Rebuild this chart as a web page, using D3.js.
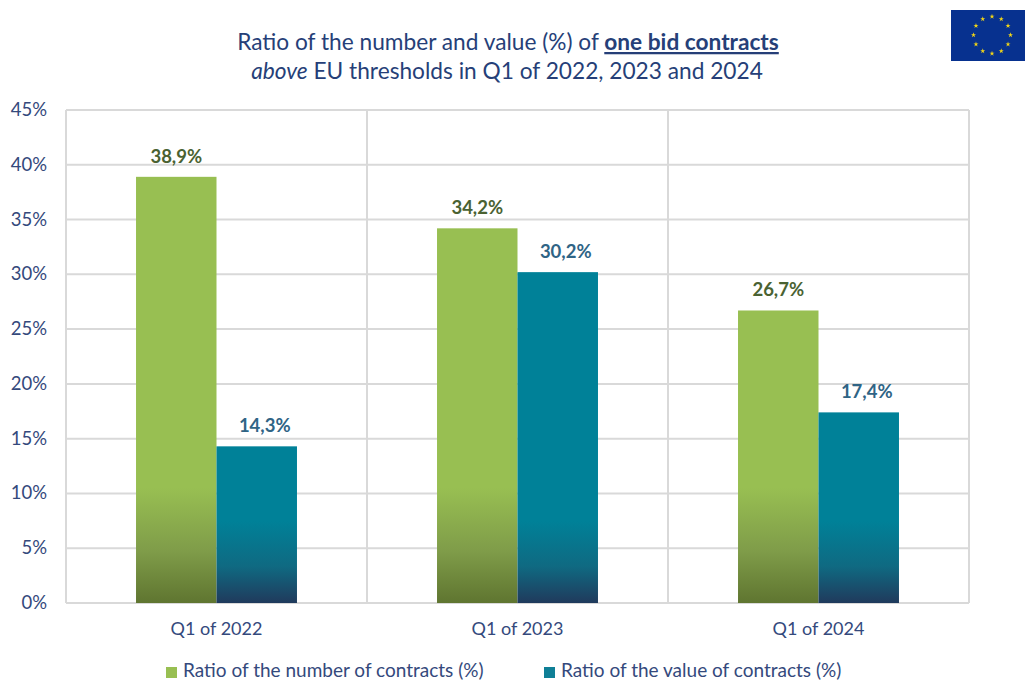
<!DOCTYPE html>
<html>
<head>
<meta charset="utf-8">
<script src="https://cdn.jsdelivr.net/npm/d3@7"></script>
<style>
  html, body { margin: 0; padding: 0; background: #fff; overflow: hidden; }
  svg { display: block; font-family: Lato, "Open Sans", sans-serif; }
</style>
</head>
<body>
<div id="app"></div>
<script>
const categories = ['Q1 of 2022', 'Q1 of 2023', 'Q1 of 2024']
const numberValues = [38.9, 34.2, 26.7]
const valueValues = [14.3, 30.2, 17.4]
const seriesNames = ['Ratio of the number of contracts (%)', 'Ratio of the value of contracts (%)']
const yTicks = [0, 5, 10, 15, 20, 25, 30, 35, 40, 45]

const width = 1025
const height = 681
const textColor = '#34497c'
const gridColor = '#d9d9d9'

const svg = d3.select('#app').append('svg')
  .attr('width', width)
  .attr('height', height)

const x = d3.scaleBand().domain(categories).range([66, 969])
const xInner = d3.scaleBand().domain([0, 1]).range([0, x.bandwidth()]).paddingOuter(0.87).paddingInner(0)
const y = d3.scaleLinear().domain([0, 45]).range([603, 110])

// bars fade to a dark tone near the axis, same height on every bar
const defs = svg.append('defs')
let addFade = (id, top, mid, bottom, start) => {
  const g = defs.append('linearGradient')
    .attr('id', id)
    .attr('gradientUnits', 'userSpaceOnUse')
    .attr('x1', 0).attr('x2', 0)
    .attr('y1', y(start)).attr('y2', y(0))
  g.append('stop').attr('offset', 0).attr('stop-color', top)
  g.append('stop').attr('offset', 0.55).attr('stop-color', mid)
  g.append('stop').attr('offset', 1).attr('stop-color', bottom)
}
addFade('fadeGreen', '#98bf52', '#7f9c49', '#5f7530', 10.5)
addFade('fadeTeal', '#008198', '#0f6a82', '#203a5c', 7.5)

// grid
svg.append('g').selectAll('line')
  .data(yTicks)
  .enter()
  .append('line')
  .attr('x1', 66).attr('x2', 969)
  .attr('y1', d => y(d)).attr('y2', d => y(d))
  .attr('stroke', gridColor)
  .attr('stroke-width', 2)

svg.append('g').selectAll('line')
  .data(categories.map(c => x(c)).concat([x.range()[1]]))
  .enter()
  .append('line')
  .attr('x1', d => d).attr('x2', d => d)
  .attr('y1', y(45)).attr('y2', y(0))
  .attr('stroke', gridColor)
  .attr('stroke-width', 2)

// y labels
svg.append('g').selectAll('text')
  .data(yTicks)
  .enter()
  .append('text')
  .attr('x', 47)
  .attr('y', d => y(d) + 6)
  .attr('text-anchor', 'end')
  .attr('font-size', 18.5)
  .attr('fill', textColor)
  .text(d => d + '%')

// x labels
svg.append('g').selectAll('text')
  .data(categories)
  .enter()
  .append('text')
  .attr('x', d => x(d) + x.bandwidth() / 2)
  .attr('y', 635)
  .attr('text-anchor', 'middle')
  .attr('font-size', 18)
  .attr('fill', textColor)
  .text(d => d)

// bars
let drawSeries = (values, index, fill, labelColor) => {
  const g = svg.append('g')
  g.selectAll('rect')
    .data(values)
    .enter()
    .append('rect')
    .attr('x', (d, i) => x(categories[i]) + xInner(index))
    .attr('y', d => y(d))
    .attr('width', xInner.bandwidth())
    .attr('height', d => y(0) - y(d))
    .attr('fill', fill)

  g.selectAll('text')
    .data(values)
    .enter()
    .append('text')
    .attr('x', (d, i) => x(categories[i]) + xInner(index) + xInner.bandwidth() / 2 + (index ? 8 : 0))
    .attr('y', d => y(d) - 14)
    .attr('text-anchor', 'middle')
    .attr('font-size', 18.5)
    .attr('font-weight', 700)
    .attr('fill', labelColor)
    .text(d => String(d.toFixed(1)).replace('.', ',') + '%')
}

drawSeries(numberValues, 0, 'url(#fadeGreen)', '#4a6232')
drawSeries(valueValues, 1, 'url(#fadeTeal)', '#2f6485')

// title
const title = svg.append('g')
  .attr('font-size', 22.7)
  .attr('fill', '#263f78')
  .attr('text-anchor', 'middle')

const line1 = title.append('text').attr('x', 508).attr('y', 50)
line1.append('tspan').text('Ratio of the number and value (%) of ')
line1.append('tspan').attr('font-weight', 700).attr('text-decoration', 'underline').text('one bid contracts')

const line2 = title.append('text').attr('x', 507).attr('y', 79)
line2.append('tspan').attr('font-style', 'italic').text('above')
line2.append('tspan').text(' EU thresholds in Q1 of 2022, 2023 and 2024')

// legend
const legend = svg.append('g')
const legendX = [166, 544]
const legendFill = ['#98bf52', '#0f7f96']
seriesNames.forEach((name, i) => {
  legend.append('rect')
    .attr('x', legendX[i]).attr('y', 667)
    .attr('width', 11).attr('height', 11)
    .attr('fill', legendFill[i])
  legend.append('text')
    .attr('x', legendX[i] + 17).attr('y', 677)
    .attr('font-size', 19)
    .attr('fill', textColor)
    .text(name)
})

// EU flag top right
const flag = svg.append('g').attr('transform', 'translate(951,10)')
flag.append('rect').attr('width', 74).attr('height', 51).attr('fill', '#07318f')
flag.selectAll('path')
  .data(d3.range(12))
  .enter()
  .append('path')
  .attr('d', d3.symbol().type(d3.symbolStar).size(8))
  .attr('fill', '#f2d516')
  .attr('transform', d => {
    const a = d * Math.PI / 6
    return `translate(${41 + 18.5 * Math.sin(a)},${25 - 18.5 * Math.cos(a)})`
  })
</script>
</body>
</html>
